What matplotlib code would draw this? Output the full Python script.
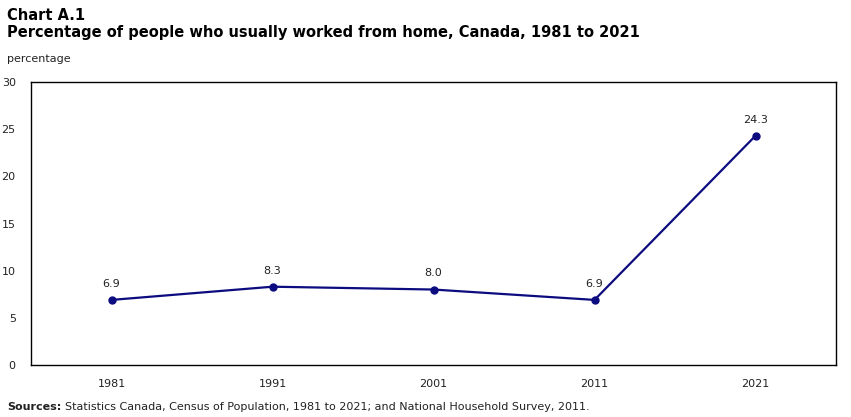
import matplotlib
matplotlib.use("Agg")
import matplotlib.pyplot as plt

years = ["1981", "1991", "2001", "2011", "2021"]
values = [6.9, 8.3, 8.0, 6.9, 24.3]
labels = ["6.9", "8.3", "8.0", "6.9", "24.3"]
yticks = [0, 5, 10, 15, 20, 25, 30]

plt.rcParams['font.family'] = ['DejaVu Sans']
W, H = 851, 417
fig = plt.figure(figsize=(W/100, H/100), dpi=100)
ax = fig.add_axes([31/W, 1-365/H, (836-31)/W, (365-82)/H])

x = list(range(len(years)))
color = '#0c0c80'
ax.plot(x, values, color=color, lw=1.6, marker='o', ms=5)
for xi, v, lab in zip(x, values, labels):
    ax.annotate(lab, (xi, v), xytext=(0, 8), textcoords='offset points',
                ha='center', va='bottom', fontsize=8, color='#222222')

ax.set_xlim(-0.5, len(years)-0.5)
ax.set_ylim(0, 30)
ax.set_yticks(yticks)
ax.set_yticklabels([str(t) for t in yticks], fontsize=8, color='#222222')
ax.set_xticks(x)
ax.set_xticklabels(years, fontsize=8, color='#222222')
ax.tick_params(axis='both', length=0)
ax.tick_params(axis='y', pad=11)
ax.tick_params(axis='x', pad=10)
for s in ax.spines.values():
    s.set_linewidth(1.0)
    s.set_color('black')

fig.text(7/W, 1-15/H, "Chart A.1", fontsize=10.5, fontweight='bold', va='center', ha='left')
fig.text(7/W, 1-32/H, "Percentage of people who usually worked from home, Canada, 1981 to 2021",
         fontsize=10.5, fontweight='bold', va='center', ha='left')
fig.text(7/W, 1-59/H, "percentage", fontsize=8, va='center', ha='left', color='#222222')
t1 = fig.text(7/W, 1-407/H, "Sources:", fontsize=8, fontweight='bold', va='center', ha='left', color='#222222')
fig.canvas.draw()
bb = t1.get_window_extent(fig.canvas.get_renderer())
fig.text((bb.x1 + 4)/W, 1-407/H,
         "Statistics Canada, Census of Population, 1981 to 2021; and National Household Survey, 2011.",
         fontsize=8, va='center', ha='left', color='#222222')

fig.savefig("out.png", dpi=100)
